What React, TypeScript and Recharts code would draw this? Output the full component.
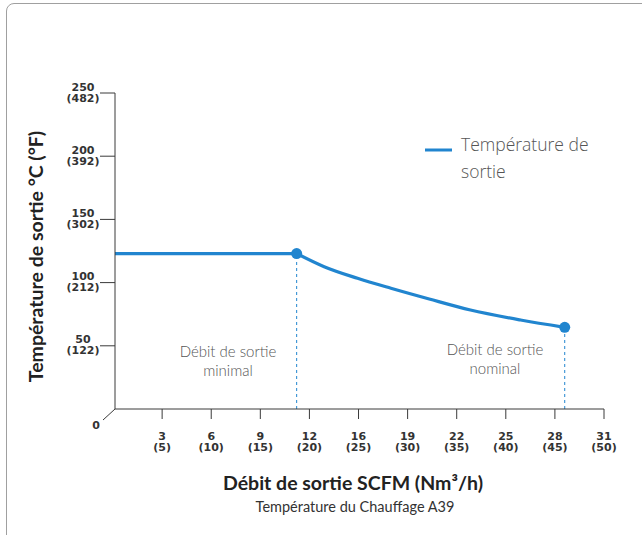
import React from 'react';
import { LineChart, Line, XAxis, YAxis, ReferenceLine } from 'recharts';

// Outlet flow in Nm3/h and outlet temperature in °C
const flowNm3 = [0.2, 18.7, 21.5, 24.9, 28.3, 32.2, 36.4, 41.5, 46.0];
const tempC = [123, 123, 112.6, 103.4, 95.5, 87.0, 78.3, 70.4, 64.6];
const minIdx = 1;
const nomIdx = 8;

const xTickValues = [5, 10, 15, 20, 25, 30, 35, 40, 45, 50];
const xTickScfm = ['3', '6', '9', '12', '16', '19', '22', '25', '28', '31'];
const yTickValues = [0, 50, 100, 150, 200, 250];
const yTickF = ['', '122', '212', '302', '392', '482'];

const seriesName = 'Température de sortie';
const legendLines = ['Température de', 'sortie'];
const xTitle = 'Débit de sortie SCFM (Nm³/h)';
const subTitle = 'Température du Chauffage A39';
const yTitle = 'Température de sortie °C (°F)';
const noteMin = ['Débit de sortie', 'minimal'];
const noteNom = ['Débit de sortie', 'nominal'];

const data = flowNm3.map((x, i) => ({
  x,
  flat: i <= minIdx ? tempC[i] : undefined,
  curve: i >= minIdx ? tempC[i] : undefined,
}));

const TITLE_FONT = 'Lato, "Noto Sans", sans-serif';
const TICK_FONT = '"DejaVu Sans", sans-serif';
const LEGEND_FONT = '"Open Sans", "Noto Sans", sans-serif';
const BLUE = '#2185cf';
const AXIS = '#3a3a3a';
const TICK_FILL = '#333';

const YTick = (props: any) => {
  const { x, y, payload } = props;
  const idx = yTickValues.indexOf(payload.value);
  if (payload.value === 0) {
    return (
      <g>
        <line x1={x + 15} y1={y} x2={x + 3} y2={y + 11} stroke={AXIS} strokeWidth={1} />
        <text x={x - 4} y={y + 20} textAnchor="middle" fontFamily={TICK_FONT} fontWeight={700} fontSize={11} fill={TICK_FILL}>0</text>
      </g>
    );
  }
  return (
    <g>
      <line x1={x} y1={y} x2={x + 15} y2={y} stroke={AXIS} strokeWidth={1} />
      <text textAnchor="middle" fontFamily={TICK_FONT} fontWeight={700} fontSize={11} fill={TICK_FILL}>
        <tspan x={x - 17} y={y - 2.5}>{String(payload.value)}</tspan>
        <tspan x={x - 17} y={y + 8.5}>{`(${yTickF[idx]})`}</tspan>
      </text>
    </g>
  );
};

const XTick = (props: any) => {
  const { x, y, payload } = props;
  const idx = xTickValues.indexOf(payload.value);
  return (
    <text textAnchor="middle" fontFamily={TICK_FONT} fontWeight={700} fontSize={11} fill={TICK_FILL}>
      <tspan x={x} y={y + 21}>{xTickScfm[idx]}</tspan>
      <tspan x={x} y={y + 32}>{`(${payload.value})`}</tspan>
    </text>
  );
};

const Marker = (props: any) => {
  const { cx, cy, index } = props;
  if (index !== minIdx && index !== nomIdx) return <g key={`d${index}`} />;
  return <circle key={`d${index}`} cx={cx} cy={cy} r={5.5} fill={BLUE} stroke="none" />;
};

export default function App() {
  return (
    <div style={{ position: 'absolute', left: 0, top: 0, width: 642, height: 535, overflow: 'hidden', background: '#fff' }}>
      <div style={{ position: 'absolute', left: 6, top: 3, width: 700, height: 600, border: '1.5px solid #a0a0a0', borderRadius: 8, boxSizing: 'border-box' }} />
      <div style={{ position: 'absolute', left: 0, top: 0 }}>
        <LineChart width={642} height={535} data={data} margin={{ top: 93, right: 38, bottom: 86, left: 55 }}>
          <XAxis
            dataKey="x"
            type="number"
            domain={[0.2, 50]}
            ticks={xTickValues}
            interval={0}
            tick={<XTick />}
            tickSize={10}
            tickMargin={0}
            height={40}
            axisLine={{ stroke: AXIS, strokeWidth: 1 }}
            tickLine={{ stroke: AXIS, strokeWidth: 1 }}
          />
          <YAxis
            type="number"
            domain={[0, 250]}
            ticks={yTickValues}
            interval={0}
            tick={<YTick />}
            tickSize={15}
            tickMargin={0}
            tickLine={false}
            width={60}
            axisLine={{ stroke: AXIS, strokeWidth: 1 }}
          />
          <ReferenceLine
            segment={[{ x: flowNm3[minIdx], y: 0 }, { x: flowNm3[minIdx], y: tempC[minIdx] }]}
            stroke={BLUE}
            strokeWidth={1}
            strokeDasharray="3 3"
          />
          <ReferenceLine
            segment={[{ x: flowNm3[nomIdx], y: 0 }, { x: flowNm3[nomIdx], y: tempC[nomIdx] }]}
            stroke={BLUE}
            strokeWidth={1}
            strokeDasharray="3 3"
          />
          <Line
            dataKey="flat"
            name={seriesName}
            type="linear"
            stroke={BLUE}
            strokeWidth={3.2}
            dot={false}
            activeDot={false}
            isAnimationActive={false}
          />
          <Line
            dataKey="curve"
            name={seriesName}
            type="monotone"
            stroke={BLUE}
            strokeWidth={3.2}
            dot={<Marker />}
            activeDot={false}
            legendType="none"
            isAnimationActive={false}
          />
        </LineChart>
      </div>
      <svg width={642} height={535} style={{ position: 'absolute', left: 0, top: 0, pointerEvents: 'none' }}>
        {/* legend */}
        <line x1={425} y1={150} x2={452} y2={150} stroke={BLUE} strokeWidth={3} />
        <text fontFamily={LEGEND_FONT} fontWeight={300} fontSize={17.5} fill="#555">
          <tspan x={461} y={151}>{legendLines[0]}</tspan>
          <tspan x={461} y={177.5}>{legendLines[1]}</tspan>
        </text>
        {/* annotations */}
        <text textAnchor="middle" fontFamily={TITLE_FONT} fontWeight={300} fontSize={15} fill="#555">
          <tspan x={228} y={357}>{noteMin[0]}</tspan>
          <tspan x={228} y={375.5}>{noteMin[1]}</tspan>
        </text>
        <text textAnchor="middle" fontFamily={TITLE_FONT} fontWeight={300} fontSize={15} fill="#555">
          <tspan x={495} y={355}>{noteNom[0]}</tspan>
          <tspan x={495} y={373.5}>{noteNom[1]}</tspan>
        </text>
        {/* titles */}
        <text x={353} y={490} textAnchor="middle" fontFamily={TITLE_FONT} fontWeight={700} fontSize={19.5} fill="#222">{xTitle}</text>
        <text x={355} y={512} textAnchor="middle" fontFamily={TITLE_FONT} fontWeight={400} fontSize={14.5} fill="#333">{subTitle}</text>
        <text transform="translate(42.5, 256.5) rotate(-90)" textAnchor="middle" fontFamily={TITLE_FONT} fontWeight={700} fontSize={19.5} fill="#222">{yTitle}</text>
      </svg>
    </div>
  );
}
